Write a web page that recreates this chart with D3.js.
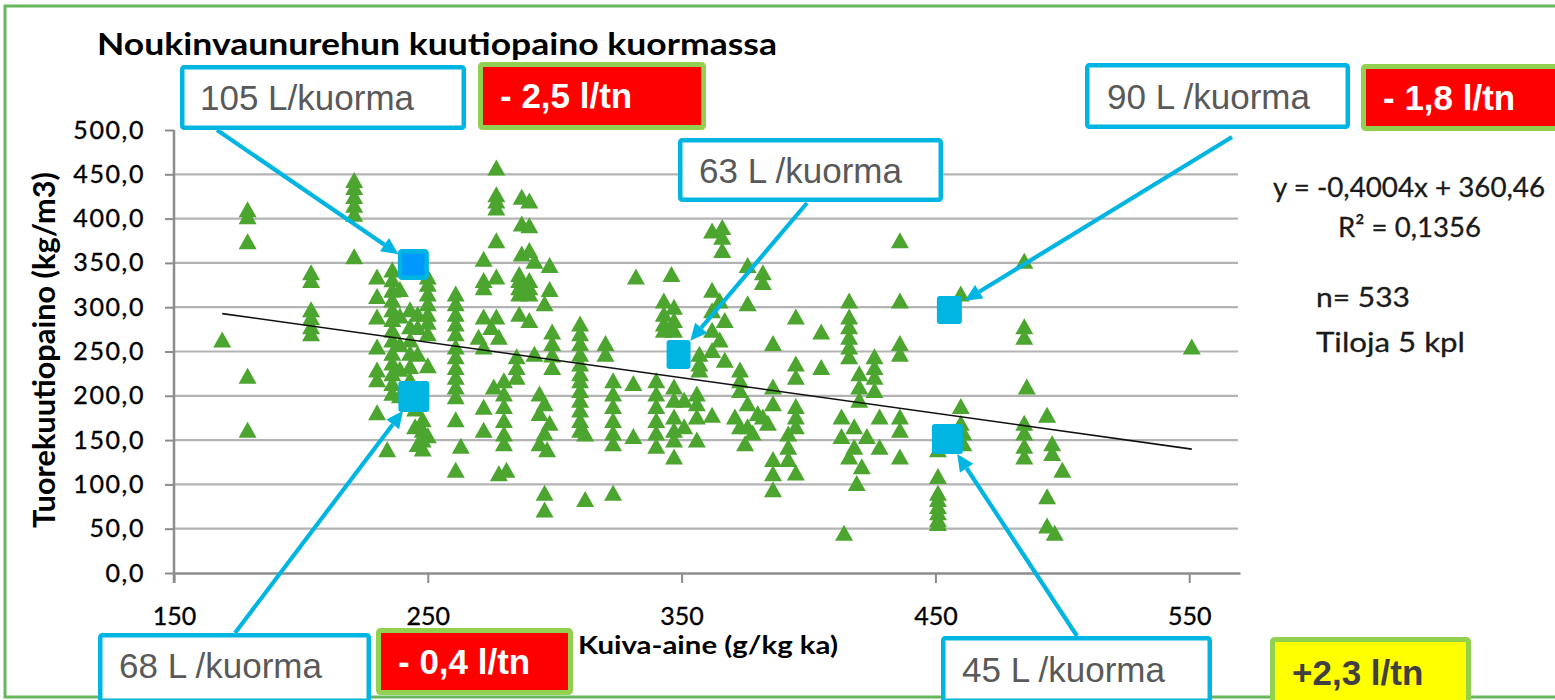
<!DOCTYPE html>
<html>
<head>
<meta charset="utf-8">
<script src="https://cdn.jsdelivr.net/npm/d3@7"></script>
<style>
  body { margin: 0; background: #fff; }
  svg { display: block; }
</style>
</head>
<body>
<div id="chart"></div>
<script>
// tick values
var xTicks = [150, 250, 350, 450, 550];
var yTicks = [0, 50, 100, 150, 200, 250, 300, 350, 400, 450, 500];

// regression given in the chart
var slope = -0.4004, intercept = 360.46;
var trendX = [169, 551];

var points = [
  [169,263],[179,410],[179,402],[179,374],[179,222],[179,161],
  [204,339],[204,330],[204,297],[204,288],[204,278],[204,270],
  [221,443],[221,435],[221,425],[221,415],[221,405],[221,357],
  [230,334],[230,312],[230,289],[230,255],[230,229],[230,218],[230,181],
  [236,342],[236,331],[236,319],[236,308],[236,297],[236,286],[236,274],[236,263],
  [236,248],[236,237],[236,225],[236,214],[236,203],[234,139],
  [239,320],[239,290],[239,258],[239,230],[239,200],
  [243,297],[243,278],[243,263],[243,248],[243,233],[243,218],
  [246,292],[246,277],[246,247],
  [245,185],[245,165],[246,145],[250,155],
  [248,173],[248,161],[248,150],[248,140],
  [250,334],[250,326],[250,315],[250,304],[250,292],[250,283],[250,270],[250,234],
  [261,315],[261,304],[261,292],[261,281],[261,270],[261,255],[261,244],[261,232],
  [261,221],[261,210],[261,199],[261,173],[263,143],[261,116],
  [270,266],[272,354],[272,330],[272,322],[272,289],[272,255],[272,187],[272,161],
  [275,277],[276,210],
  [277,457],[277,427],[277,420],[277,412],[277,375],[277,334],[277,289],[278,266],[278,112],
  [280,217],[280,202],[280,188],[280,172],[280,157],[280,146],[281,116],
  [285,244],[285,232],[285,221],
  [286,337],[286,330],[286,322],[286,315],[286,292],
  [287,424],[287,394],[287,360],
  [290,420],[290,392],[290,364],[290,330],[290,322],[290,315],[290,285],
  [292,352],[292,247],
  [294,202],[294,180],[294,146],[296,191],[296,158],[296,304],[296,90],[296,71],[297,139],
  [298,347],[298,320],[298,169],
  [299,272],[299,259],[299,246],[299,232],
  [310,281],[310,270],[310,259],[310,247],[310,236],[310,225],[310,217],[310,206],
  [310,195],[310,184],[310,172],[310,161],[312,157],[312,83],
  [320,259],[320,247],
  [323,217],[323,202],[323,188],[323,172],[323,158],[323,146],[323,90],
  [331,214],[331,154],[332,334],
  [340,217],[340,202],[340,188],[340,172],[340,158],[340,143],
  [343,307],[343,292],[343,281],[343,274],[346,337],
  [347,300],[347,285],[347,274],[347,210],[347,195],[347,176],[347,161],[347,150],[347,131],
  [351,195],[351,165],
  [356,202],[356,191],[356,176],[356,150],
  [357,247],[357,236],[357,229],
  [362,386],[362,319],[362,296],[362,274],[362,251],[362,178],
  [365,307],[365,263],
  [366,390],[366,379],[366,364],
  [367,285],[367,240],
  [371,176],[373,229],[373,217],[373,206],[373,165],[375,146],
  [376,347],[376,304],[376,191],[376,165],[378,158],[380,180],
  [382,339],[382,328],[382,176],[384,169],
  [386,259],[386,210],[386,191],[386,128],[386,112],[386,94],
  [392,157],[392,142],[392,128],
  [395,289],[395,236],[395,221],[395,188],[395,176],[395,165],[395,113],
  [405,272],[405,232],
  [413,176],[413,154],[414,45],
  [416,307],[416,289],[416,278],[416,266],[416,255],[416,244],[416,131],
  [418,165],[418,142],[419,101],
  [420,225],[420,210],[420,195],
  [421,120],[423,154],
  [426,244],[426,232],[426,221],[426,206],
  [428,176],[428,142],
  [436,375],[436,307],[436,259],[436,247],[436,176],[436,161],[436,131],
  [451,139],[451,109],[451,90],[451,83],[451,75],[451,68],[451,60],[451,56],
  [460,315],[460,188],[460,169],[461,158],[461,146],
  [485,352],[485,278],[485,266],[486,210],[485,169],[485,158],[485,143],[485,131],
  [494,178],[494,86],[494,53],
  [496,146],[496,135],[497,45],[500,116],
  [551,255]
];

// highlighted loads
var highlight = [[244.3,348.2],[244.5,199.2],[348.8,246.6],[455.5,296.8],[454.7,151.2]];
var loadLabels = ["105 L/kuorma", "68 L /kuorma", "63 L /kuorma", "90 L /kuorma", "45 L /kuorma"];
var changeLabels = ["- 2,5 l/tn", "- 0,4 l/tn", null, "- 1,8 l/tn", "+2,3 l/tn"];

var statLines = ["y = -0,4004x + 360,46", "R\u00b2 = 0,1356", "n= 533", "Tiloja 5 kpl"];

// ---- layout (pixels) ----
var hlSize = [[31,31],[31,31],[24,29],[25,28],[31,30]];
// callout boxes: outer x0,y0,x1,y1, text x, baseline, arrow start
var loadBox = [
  {b:[180,65,466,130], t:[200,110], a:[217,130]},
  {b:[98,633,371,703], t:[119,678], a:[235,633]},
  {b:[678,138,943,202], t:[699,183], a:[807,203]},
  {b:[1085,63,1350,129], t:[1107,109], a:[1232,137]},
  {b:[941,636,1212,703], t:[962,682], a:[1077,636]}
];
var changeBox = [
  {b:[478,62,706,130], t:[500,108], fill:"#ff0000", color:"#fff"},
  {b:[376,628,573,695], t:[398,674], fill:"#ff0000", color:"#fff"},
  null,
  {b:[1361,64,1562,131], t:[1383,110], fill:"#ff0000", color:"#fff"},
  {b:[1270,637,1471,705], t:[1292,685], fill:"#ffff00", color:"#404040"}
];
var statPos = [[1273,197,272],[1338,237,143],[1316,307,94],[1316,352,149]];

var w = 1555, h = 700;
var cyan = "#00b5e2";

var svg = d3.select("#chart").append("svg")
  .attr("width", w)
  .attr("height", h);

svg.append("rect").attr("width", w).attr("height", h).attr("fill", "#fff");

var x = d3.scaleLinear().domain([150, 570]).range([174, 1240]);
var y = d3.scaleLinear().domain([0, 500]).range([573, 130]);

var comma = function(v) { return d3.format(".1f")(v).replace(".", ","); };

// outer frame
svg.append("rect")
  .attr("x", 5).attr("y", 6)
  .attr("width", 1570).attr("height", 691)
  .attr("fill", "none")
  .attr("stroke", "#65b65c")
  .attr("stroke-width", 3);

// title
svg.append("text")
  .attr("x", 97).attr("y", 55)
  .attr("textLength", 680)
  .attr("lengthAdjust", "spacingAndGlyphs")
  .style("font", "bold 31px Lato, sans-serif")
  .attr("fill", "#000")
  .text("Noukinvaunurehun kuutiopaino kuormassa");

// gridlines
svg.append("g").selectAll("line")
  .data(yTicks.filter(function(v) { return v > 0 && v < 500; }))
  .join("line")
  .attr("x1", x(150)).attr("x2", x(570) - 2)
  .attr("y1", function(d) { return y(d); })
  .attr("y2", function(d) { return y(d); })
  .attr("stroke", "#b3b3b3")
  .attr("stroke-width", 2.2);

// axes
var yAxis = svg.append("g")
  .attr("transform", "translate(" + x(150) + ",0)")
  .call(d3.axisLeft(y).tickValues(yTicks).tickSize(9).tickSizeOuter(0).tickPadding(20).tickFormat(comma));
yAxis.select(".domain").attr("d", "M0," + (y(0) + 10) + "V" + y(500));

var xAxis = svg.append("g")
  .attr("transform", "translate(0," + y(0) + ")")
  .call(d3.axisBottom(x).tickValues(xTicks).tickSize(10).tickSizeOuter(0).tickPadding(24).tickFormat(d3.format("d")));

svg.selectAll(".domain").attr("stroke", "#8c8c8c").attr("stroke-width", 2.5);
svg.selectAll(".tick line").attr("stroke", "#8c8c8c").attr("stroke-width", 2);
svg.selectAll(".tick text")
  .style("font-family", "Lato, sans-serif")
  .style("font-size", "25px")
  .style("stroke", "#000")
  .style("stroke-width", "0.35px")
  .attr("fill", "#000");
yAxis.selectAll(".tick text").style("letter-spacing", "1.6px");

// axis titles
svg.append("text")
  .attr("transform", "translate(55,350) rotate(-90)")
  .attr("text-anchor", "middle")
  .attr("textLength", 356)
  .attr("lengthAdjust", "spacingAndGlyphs")
  .style("font", "bold 30px Lato, sans-serif")
  .attr("fill", "#000")
  .text("Tuorekuutiopaino (kg/m3)");

svg.append("text")
  .attr("x", 578).attr("y", 654)
  .attr("textLength", 260)
  .attr("lengthAdjust", "spacingAndGlyphs")
  .style("font", "bold 25px Lato, sans-serif")
  .attr("fill", "#000")
  .text("Kuiva-aine (g/kg ka)");

// points
svg.append("g").selectAll("path")
  .data(points)
  .join("path")
  .attr("transform", function(d) { return "translate(" + x(d[0]) + "," + y(d[1]) + ")"; })
  .attr("d", "M0,-8.5L9,7.5L-9,7.5Z")
  .attr("fill", "#4ba52f");

// trend line
svg.append("path")
  .datum(trendX)
  .attr("d", d3.line()
    .x(function(d) { return x(d); })
    .y(function(d) { return y(slope * d + intercept); }))
  .attr("fill", "none")
  .attr("stroke", "#111")
  .attr("stroke-width", 1.6);

// regression text
svg.append("g").selectAll("text")
  .data(statLines)
  .join("text")
  .attr("x", function(d, i) { return statPos[i][0]; })
  .attr("y", function(d, i) { return statPos[i][1]; })
  .attr("textLength", function(d, i) { return statPos[i][2]; })
  .attr("lengthAdjust", "spacingAndGlyphs")
  .style("font", "27px Lato, sans-serif")
  .style("stroke", "#1a1a1a")
  .style("stroke-width", "0.3px")
  .attr("fill", "#1a1a1a")
  .text(function(d) { return d; });

// highlighted squares
var hl = svg.append("g");
highlight.forEach(function(d, i) {
  var sw = hlSize[i][0], sh = hlSize[i][1];
  if (i === 0) {
    hl.append("rect")
      .attr("x", x(d[0]) - sw / 2 + 2.2).attr("y", y(d[1]) - sh / 2 + 2.2)
      .attr("width", sw - 4.4).attr("height", sh - 4.4)
      .attr("rx", 2)
      .attr("fill", "#0098ff")
      .attr("stroke", cyan)
      .attr("stroke-width", 4.4);
  } else {
    hl.append("rect")
      .attr("x", x(d[0]) - sw / 2).attr("y", y(d[1]) - sh / 2)
      .attr("width", sw).attr("height", sh)
      .attr("rx", 3)
      .attr("fill", cyan);
  }
});

// callout boxes
function box(g, b, fill, stroke, sw) {
  g.append("rect")
    .attr("x", b[0] + sw / 2).attr("y", b[1] + sw / 2)
    .attr("width", b[2] - b[0] - sw).attr("height", b[3] - b[1] - sw)
    .attr("rx", 2)
    .attr("fill", fill)
    .attr("stroke", stroke)
    .attr("stroke-width", sw);
}

var notes = svg.append("g");
loadBox.forEach(function(L, i) {
  box(notes, L.b, "#fff", cyan, 4.5);
  notes.append("text")
    .attr("x", L.t[0]).attr("y", L.t[1])
    .style("font", "35px 'Liberation Sans', Arial, sans-serif")
    .attr("fill", "#595959")
    .text(loadLabels[i]);

  // arrow from box to highlighted point
  var cx = x(highlight[i][0]), cy = y(highlight[i][1]);
  var dx = L.a[0] - cx, dy = L.a[1] - cy, len = Math.sqrt(dx * dx + dy * dy);
  var ux = dx / len, uy = dy / len;
  var tipX = cx + ux * 18, tipY = cy + uy * 18;
  var baseX = tipX + ux * 17, baseY = tipY + uy * 17;
  notes.append("line")
    .attr("x1", L.a[0]).attr("y1", L.a[1])
    .attr("x2", baseX).attr("y2", baseY)
    .attr("stroke", cyan)
    .attr("stroke-width", 4.2);
  notes.append("path")
    .attr("d", "M" + tipX + "," + tipY +
      "L" + (baseX - uy * 8) + "," + (baseY + ux * 8) +
      "L" + (baseX + uy * 8) + "," + (baseY - ux * 8) + "Z")
    .attr("fill", cyan);

  var C = changeBox[i];
  if (C) {
    box(notes, C.b, C.fill, "#92d050", 5);
    notes.append("text")
      .attr("x", C.t[0]).attr("y", C.t[1])
      .style("font", "bold 35px 'Liberation Sans', Arial, sans-serif")
      .attr("fill", C.color)
      .text(changeLabels[i]);
  }
});
</script>
</body>
</html>
